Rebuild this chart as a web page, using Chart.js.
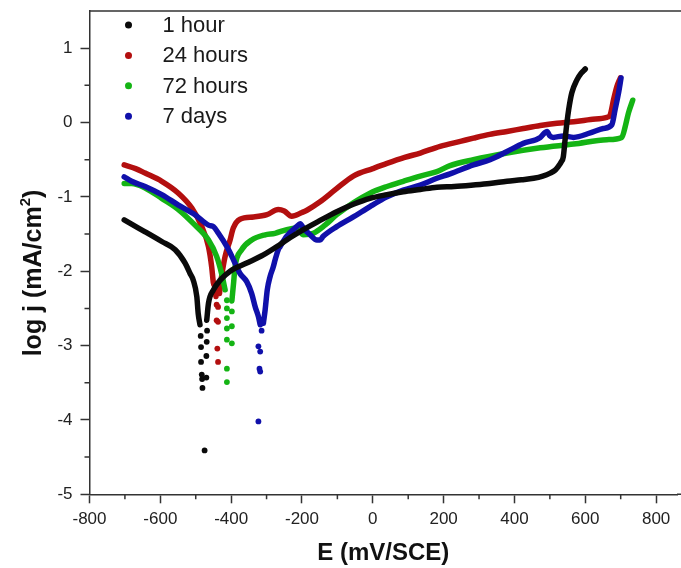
<!DOCTYPE html>
<html>
<head>
<meta charset="utf-8">
<script src="https://cdn.jsdelivr.net/npm/chart.js@4.4.1/dist/chart.umd.min.js"></script>
<style>
  html, body { margin: 0; padding: 0; background: #fff; }
  canvas { display: block; }
</style>
</head>
<body>
<canvas id="polChart" width="681" height="568"></canvas>
<script>
// Tafel curves, E in mV/SCE, log j in mA/cm2 (null = break at Ecorr)
const e1h = [-702, -680, -643, -596, -558, -530, -516, -507, -497, -493, -488, null,
  -469, -464, -450, -431, -403, -356, -309, -262, -234, -196, -150, -102, -55, -8, 40, 86, 134, 181, 230,
  284, 330, 379, 420, 454, 480, 501, 515, 524, 532, 538, 543, 548, 553, 562, 576, 588, 600];
const j1h = [-1.31, -1.37, -1.47, -1.60, -1.71, -1.89, -2.03, -2.12, -2.34, -2.57, -2.72, null,
  -2.66, -2.43, -2.25, -2.12, -2.00, -1.89, -1.78, -1.64, -1.55, -1.44, -1.32, -1.20, -1.10, -1.02, -0.97, -0.93, -0.90, -0.87, -0.86,
  -0.84, -0.82, -0.79, -0.77, -0.75, -0.72, -0.68, -0.64, -0.59, -0.53, -0.46, -0.23, -0.01, 0.17, 0.40, 0.57, 0.66, 0.72];
const e1hDots = [-486, -485, -485, -483, -482, -481, -475, -470, -470, -469, -468];
const j1hDots = [-2.87, -3.02, -3.22, -3.39, -3.45, -3.57, -4.41, -3.43, -3.14, -2.95, -2.80];

const e24h = [-702, -670, -643, -596, -549, -511, -483, -464, -455, -450, -445, -443, null,
  -433, -427, -417, -403, -394, -375, -337, -299, -267, -250, -229, -200, -186, -150, -105, -55, 0, 40, 90, 134, 190,
  250, 284, 330, 379, 425, 473, 520, 567, 615, 661, 670, 680, 689, 699];
const j24h = [-0.57, -0.62, -0.68, -0.79, -0.95, -1.15, -1.40, -1.67, -1.94, -2.16, -2.23, -2.34, null,
  -2.30, -2.07, -1.80, -1.58, -1.42, -1.30, -1.27, -1.24, -1.17, -1.19, -1.26, -1.21, -1.18, -1.07, -0.90, -0.72, -0.62, -0.55, -0.47, -0.41, -0.32,
  -0.25, -0.21, -0.16, -0.12, -0.08, -0.04, -0.01, 0.01, 0.04, 0.07, 0.10, 0.31, 0.48, 0.60];
const e24hDots = [-441, -437, -441, -437, -439, -437];
const j24hDots = [-2.45, -2.48, -2.66, -2.68, -3.04, -3.22];

const e72h = [-702, -681, -643, -596, -549, -502, -464, -441, -427, -417, null,
  -398, -393, -389, -370, -342, -304, -276, -243, -215, -196, -168, -135, -102, -55, -8, 40, 86, 134, 181, 218,
  284, 379, 473, 567, 661, 703, 713, 722, 734];
const j72h = [-0.82, -0.82, -0.88, -1.02, -1.17, -1.38, -1.58, -1.80, -2.03, -2.25, null,
  -2.40, -2.15, -1.94, -1.71, -1.58, -1.51, -1.49, -1.44, -1.42, -1.51, -1.49, -1.38, -1.24, -1.08, -0.95, -0.86, -0.79, -0.72, -0.66, -0.58,
  -0.50, -0.41, -0.34, -0.29, -0.23, -0.20, -0.05, 0.13, 0.30];
const e72hDots = [-412, -412, -412, -412, -412, -412, -412, -398, -398, -398];
const j72hDots = [-2.39, -2.50, -2.63, -2.77, -2.92, -3.31, -3.49, -2.54, -2.74, -2.97];

const e7d = [-702, -681, -643, -596, -549, -502, -464, -450, -436, -412, -398, -375, -356, -342, -332, -323, -318, null,
  -309, -304, -298, -290, -281, -276, -267, -262, -243, -215, -205, -196, -177, -158, -149, -140, -102, -55, -8, 40, 86, 134, 181, 218,
  284, 331, 379, 425, 473, 485, 492, 500, 510, 538, 567, 614, 651, 675, 684, 694, 701];
const j7d = [-0.73, -0.79, -0.86, -0.97, -1.11, -1.24, -1.38, -1.40, -1.49, -1.67, -1.80, -2.03, -2.14, -2.30, -2.48, -2.61, -2.72, null,
  -2.70, -2.52, -2.25, -2.07, -1.94, -1.85, -1.71, -1.67, -1.53, -1.40, -1.36, -1.42, -1.51, -1.58, -1.58, -1.53, -1.40, -1.27, -1.13, -1.00, -0.91, -0.84, -0.75, -0.69,
  -0.57, -0.50, -0.39, -0.28, -0.20, -0.14, -0.12, -0.18, -0.20, -0.18, -0.20, -0.14, -0.08, -0.03, 0.17, 0.40, 0.60];
const e7dDots = [-314, -323, -318, -320, -318, -323];
const j7dDots = [-2.80, -3.01, -3.08, -3.31, -3.35, -4.02];

const seriesNames = ['1 hour', '24 hours', '72 hours', '7 days'];
const seriesColors = ['#0a0a0a', '#b30f0f', '#14b414', '#1010aa'];

const xTicks = [-800, -600, -400, -200, 0, 200, 400, 600, 800];
const xMinor = [-700, -500, -300, -100, 100, 300, 500, 700];
const yTicks = [-5, -4, -3, -2, -1, 0, 1];
const yMinor = [-4.5, -3.5, -2.5, -1.5, -0.5, 0.5];

const FONT = "'Liberation Sans', Arial, sans-serif";

function pts(xs, ys) {
  return xs.map((v, i) => ({ x: v, y: ys[i] }));
}

const lineSets = [[e1h, j1h], [e24h, j24h], [e72h, j72h], [e7d, j7d]];
const dotSets = [[e1hDots, j1hDots], [e24hDots, j24hDots], [e72hDots, j72hDots], [e7dDots, j7dDots]];

// black drawn on top, then blue, green, red
const drawOrder = [0, 3, 2, 1];
const datasets = [];
drawOrder.forEach(i => {
  datasets.push({
    label: seriesNames[i],
    data: pts(lineSets[i][0], lineSets[i][1]),
    showLine: true,
    borderColor: seriesColors[i],
    borderWidth: 5.5,
    borderCapStyle: 'round',
    borderJoinStyle: 'round',
    cubicInterpolationMode: 'monotone',
    pointRadius: 0,
    spanGaps: false
  });
  datasets.push({
    label: seriesNames[i] + ' dots',
    data: pts(dotSets[i][0], dotSets[i][1]),
    showLine: false,
    backgroundColor: seriesColors[i],
    borderWidth: 0,
    pointRadius: 2.9
  });
});

// frame top, minor ticks, y title, legend
const extras = {
  id: 'extras',
  afterDraw(chart) {
    const { ctx, chartArea: a, scales: { x, y } } = chart;
    ctx.save();
    ctx.strokeStyle = '#333';
    ctx.lineWidth = 1.5;
    ctx.beginPath();
    ctx.moveTo(a.left, a.top);
    ctx.lineTo(chart.width, a.top);
    xMinor.forEach(v => {
      const px = x.getPixelForValue(v);
      ctx.moveTo(px, a.bottom);
      ctx.lineTo(px, a.bottom + 5);
    });
    yMinor.forEach(v => {
      const py = y.getPixelForValue(v);
      ctx.moveTo(a.left, py);
      ctx.lineTo(a.left - 5, py);
    });
    ctx.moveTo(a.right, a.bottom);
    ctx.lineTo(chart.width, a.bottom);
    ctx.stroke();

    // y axis title with superscript
    ctx.save();
    ctx.translate(34, 273);
    ctx.rotate(-Math.PI / 2);
    ctx.fillStyle = '#111';
    ctx.textBaseline = 'middle';
    const mainFont = 'bold 25px ' + FONT;
    const supFont = 'bold 15px ' + FONT;
    ctx.font = mainFont;
    const t1 = 'log j (mA/cm', t3 = ')';
    const w1 = ctx.measureText(t1).width, w3 = ctx.measureText(t3).width;
    ctx.font = supFont;
    const w2 = ctx.measureText('2').width;
    let sx = -(w1 + w2 + w3) / 2;
    ctx.font = mainFont;
    ctx.textAlign = 'left';
    ctx.fillText(t1, sx, 0);
    ctx.font = supFont;
    ctx.fillText('2', sx + w1, -8);
    ctx.font = mainFont;
    ctx.fillText(t3, sx + w1 + w2, 0);
    ctx.restore();

    // legend inside plot
    ctx.font = '22px ' + FONT;
    ctx.textBaseline = 'middle';
    ctx.textAlign = 'left';
    seriesNames.forEach((name, i) => {
      const cy = a.top + 14 + i * 30.4;
      ctx.fillStyle = seriesColors[i];
      ctx.beginPath();
      ctx.arc(a.left + 39, cy, 3.5, 0, Math.PI * 2);
      ctx.fill();
      ctx.fillStyle = '#1a1a1a';
      ctx.fillText(name, a.left + 73, cy + 1);
    });
    ctx.restore();
  }
};

const ctx = document.getElementById('polChart').getContext('2d');
const polChart = new Chart(ctx, {
  type: 'scatter',
  data: { datasets },
  options: {
    responsive: false,
    devicePixelRatio: 1,
    animation: false,
    layout: { padding: { top: 11, right: 0, bottom: 0, left: 0 } },
    plugins: {
      legend: { display: false },
      tooltip: { enabled: false }
    },
    scales: {
      x: {
        type: 'linear',
        min: -800,
        max: 859,
        afterBuildTicks: s => { s.ticks = xTicks.map(v => ({ value: v })); },
        afterFit: s => { s.height = 568 - 494.3; s.paddingLeft = 0; s.paddingRight = 0; },
        ticks: { font: { family: FONT, size: 17 }, color: '#222', padding: 6, maxRotation: 0, autoSkip: false },
        grid: { drawOnChartArea: false, drawTicks: true, tickLength: 9, tickColor: '#333', tickWidth: 1.5 },
        border: { color: '#333', width: 1.5 },
        title: {
          display: true,
          text: 'E (mV/SCE)',
          color: '#111',
          font: { family: FONT, size: 24, weight: 'bold' },
          padding: { top: 0, bottom: 0 }
        }
      },
      y: {
        type: 'linear',
        min: -5,
        max: 1.5,
        afterBuildTicks: s => { s.ticks = yTicks.map(v => ({ value: v })); },
        afterFit: s => { s.width = 89.5; s.paddingTop = 0; s.paddingBottom = 0; },
        ticks: { font: { family: FONT, size: 17 }, color: '#222', padding: 8 },
        grid: { drawOnChartArea: false, drawTicks: true, tickLength: 9, tickColor: '#333', tickWidth: 1.5 },
        border: { color: '#333', width: 1.5 }
      }
    }
  },
  plugins: [extras]
});
</script>
</body>
</html>
